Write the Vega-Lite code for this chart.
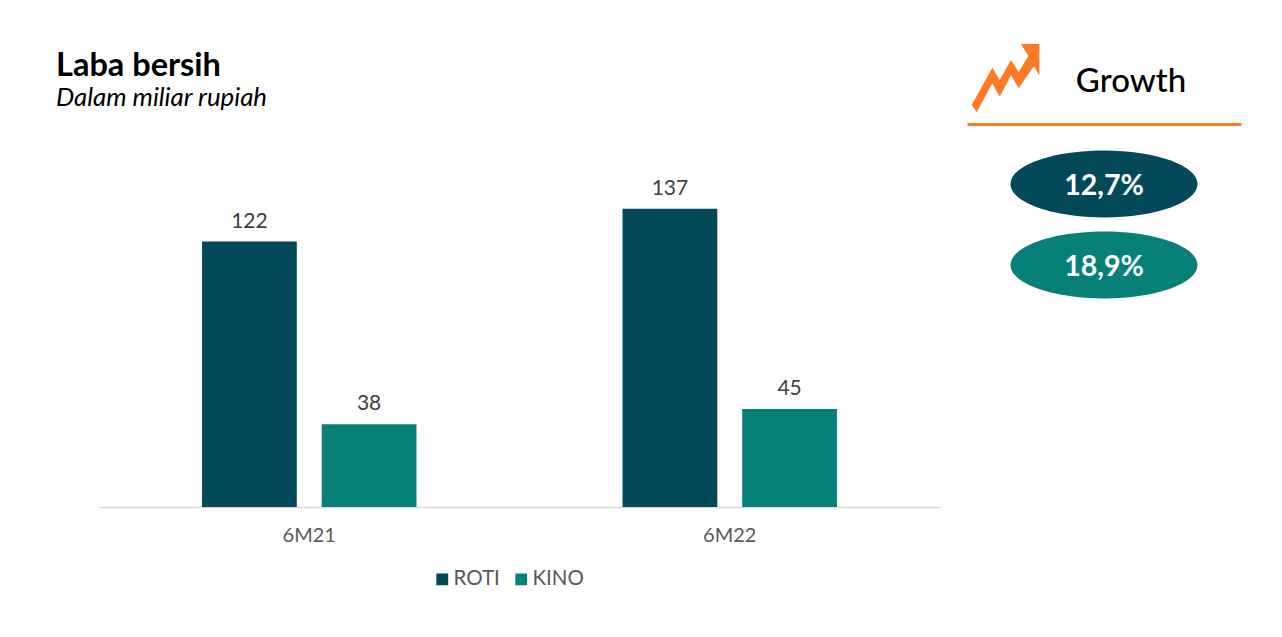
{
"$schema":"https://vega.github.io/schema/vega-lite/v6.json",
"background":"white",
"padding":{"left":56,"top":44,"right":41,"bottom":10},
"spacing":27,
"config":{"view":{"stroke":null},"font":"Lato"},
"resolve":{"scale":{"color":"independent","y":"independent","x":"independent"}},
"hconcat":[
{"width":841,"height":383,
"title":{"text":"Laba bersih","subtitle":"Dalam miliar rupiah","anchor":"start","frame":"group","dx":-43,"offset":13,"font":"Lato","fontSize":32.5,"fontWeight":"bold","color":"#000000","subtitleFont":"Lato","subtitleFontSize":25.8,"subtitleFontStyle":"italic","subtitleColor":"#000000","subtitlePadding":4},
"data":{"values":[
{"periode":"6M21","emiten":"ROTI","laba":122},
{"periode":"6M21","emiten":"KINO","laba":38},
{"periode":"6M22","emiten":"ROTI","laba":137},
{"periode":"6M22","emiten":"KINO","laba":45}]},
"encoding":{
"x":{"field":"periode","type":"nominal","scale":{"paddingInner":0.49,"paddingOuter":0.245},
"axis":{"title":null,"labelAngle":0,"ticks":false,"labelFontSize":20,"labelColor":"#595959","labelFont":"Lato","labelPadding":18,"domainColor":"#D9D9D9","domainWidth":1.5,"grid":false}},
"xOffset":{"field":"emiten","type":"nominal","sort":["ROTI","KINO"],"scale":{"domain":["ROTI","KINO"],"paddingInner":0.208}},
"y":{"field":"laba","type":"quantitative","scale":{"domain":[0,176]},"axis":null}
},
"layer":[
{"mark":{"type":"bar"},"encoding":{"color":{"field":"emiten","type":"nominal","sort":["ROTI","KINO"],"scale":{"domain":["ROTI","KINO"],"range":["#03495A","#078178"]},
"legend":{"title":null,"orient":"none","legendX":333,"legendY":445,"direction":"horizontal","symbolType":"square","symbolSize":140,"symbolStrokeWidth":0,"labelFontSize":20.5,"labelColor":"#595959","labelFont":"Lato","columnPadding":11,"labelOffset":1,"columns":2}}}},
{"mark":{"type":"text","dy":-20,"fontSize":21,"color":"#404040","font":"Lato"},"encoding":{"text":{"field":"laba","type":"quantitative"}}}
]},
{"width":274,"height":383,
"title":{"text":"Growth","anchor":"middle","frame":"group","dx":27,"offset":-55,"font":"Lato","fontSize":33,"fontWeight":500,"color":"#000000"},
"data":{"values":[
{"emiten":"ROTI","pertumbuhan":"12,7%"},
{"emiten":"KINO","pertumbuhan":"18,9%"}]},
"encoding":{
"x":{"datum":0.5,"type":"quantitative","scale":{"domain":[0,1]},"axis":{"orient":"top","title":null,"ticks":false,"labels":false,"grid":false,"domainColor":"#FF7A25","domainWidth":3}},
"y":{"field":"emiten","type":"nominal","sort":null,"scale":{"domain":["ROTI","KINO"],"type":"point","padding":0,"range":[60,141]},"axis":null}
},
"layer":[
{"mark":{"type":"point","filled":true,"opacity":1,"strokeWidth":0,"size":34969,"shape":"M-1,0A1,0.358,0,1,1,1,0A1,0.358,0,1,1,-1,0Z"},
"encoding":{"color":{"field":"emiten","type":"nominal","scale":{"domain":["ROTI","KINO"],"range":["#03495A","#078178"]},"legend":null}}},
{"mark":{"type":"point","filled":true,"opacity":1,"strokeWidth":0,"color":"#FF7A25","size":40000,"shape":"M-1.323,-0.79L-1.117,-1.163L-1.043,-1.04L-0.93,-1.24L-0.853,-1.12L-0.757,-1.28L-0.83,-1.4L-0.647,-1.4L-0.647,-1.083L-0.7,-1.18L-0.853,-0.957L-0.93,-1.09L-1.043,-0.873L-1.117,-1.007L-1.273,-0.717Z"},
"transform":[{"filter":"datum.emiten === 'ROTI'"}]},
{"mark":{"type":"text","dy":1.5,"fontSize":28.5,"fontWeight":"bold","color":"#FFFFFF","font":"Lato"},"encoding":{"text":{"field":"pertumbuhan","type":"nominal"}}}
]}
]
}
